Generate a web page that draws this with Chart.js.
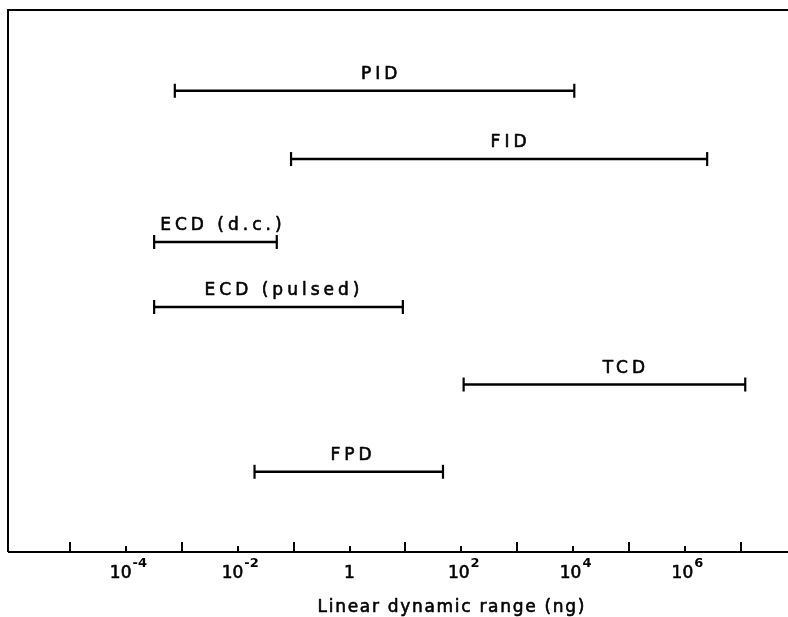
<!DOCTYPE html>
<html>
<head>
<meta charset="utf-8">
<script src="https://cdn.jsdelivr.net/npm/chart.js@4.4.1/dist/chart.umd.min.js"></script>
<style>
  html, body { margin: 0; padding: 0; background: #fff; }
  #wrap { width: 788px; height: 617px; }
</style>
</head>
<body>
<div id="wrap"><canvas id="c" width="788" height="617"></canvas></div>
<script>
// ---- data ----
const detectors   = ['PID', 'FID', 'ECD (d.c.)', 'ECD (pulsed)', 'TCD', 'FPD'];
const rangeLow    = [7.5e-4, 0.09, 3.2e-4, 3.2e-4, 110, 0.02];      // ng
const rangeHigh   = [1.05e4, 2.5e6, 0.05, 9, 1.2e7, 47];             // ng
const rowLevel    = [85.1, 72.5, 57.2, 45.2, 30.9, 14.8];            // vertical row position (0-100)
const labelAt     = [3.4, 700, 0.005, 0.062, 8.1e4, 1.07];           // ng, label centre
const tickExponents = [-5, -4, -3, -2, -1, 0, 1, 2, 3, 4, 5, 6, 7];
const labelledExponents = [-4, -2, 0, 2, 4, 6];
const axisTitle = 'Linear dynamic range (ng)';

const FONT = '"DejaVu Sans", sans-serif';

const datasets = detectors.map((name, i) => ({
  label: name,
  data: [{ x: rangeLow[i], y: rowLevel[i] }, { x: rangeHigh[i], y: rowLevel[i] }],
  borderColor: '#000',
  borderWidth: 2.6,
  pointStyle: 'line',
  rotation: 90,
  pointRadius: 7,
  pointBorderWidth: 2.2,
  pointBorderColor: '#000',
  pointBackgroundColor: '#000',
  showLine: true,
  fill: false
}));

function heavyText(ctx, text, x, y) {
  ctx.fillText(text, x, y);
  ctx.strokeText(text, x, y);
}

const decorPlugin = {
  id: 'decor',
  afterDraw(chart) {
    const ctx = chart.ctx;
    const a = chart.chartArea;
    const xs = chart.scales.x;
    const ys = chart.scales.y;
    ctx.save();
    ctx.strokeStyle = '#000';
    ctx.fillStyle = '#000';
    ctx.lineWidth = 2;
    // frame: left, top, bottom
    ctx.beginPath();
    ctx.moveTo(a.left, a.bottom);
    ctx.lineTo(a.left, a.top);
    ctx.lineTo(chart.width, a.top);
    ctx.moveTo(a.left, a.bottom);
    ctx.lineTo(chart.width, a.bottom);
    ctx.stroke();
    // ticks (inward)
    tickExponents.forEach(e => {
      const px = Math.round(xs.getPixelForValue(Math.pow(10, e)));
      const len = labelledExponents.includes(e) ? 6 : 10;
      ctx.beginPath();
      ctx.moveTo(px, a.bottom);
      ctx.lineTo(px, a.bottom - len);
      ctx.stroke();
    });
    // text
    ctx.lineWidth = 0.6;
    ctx.lineJoin = 'round';
    ctx.textBaseline = 'alphabetic';
    labelledExponents.forEach(e => {
      const px = xs.getPixelForValue(Math.pow(10, e));
      if (e === 0) {
        ctx.font = '17px ' + FONT;
        ctx.textAlign = 'center';
        heavyText(ctx, '1', px, a.bottom + 26);
        return;
      }
      const base = '10';
      const sup = e < 0 ? '-' + Math.abs(e) : String(e);
      ctx.font = '17px ' + FONT;
      const wb = ctx.measureText(base).width;
      ctx.font = 'bold 13px ' + FONT;
      const ws = ctx.measureText(sup).width;
      const start = px - (wb + ws) / 2 + 2;
      ctx.textAlign = 'left';
      ctx.font = '17px ' + FONT;
      heavyText(ctx, base, start, a.bottom + 26);
      ctx.font = 'bold 13px ' + FONT;
      ctx.fillText(sup, start + wb + 1, a.bottom + 15);
    });
    // axis title
    ctx.font = '17px ' + FONT;
    ctx.letterSpacing = '1.7px';
    ctx.textAlign = 'center';
    heavyText(ctx, axisTitle, xs.getPixelForValue(Math.pow(10, 1.83)), a.bottom + 60);
    // detector labels
    ctx.font = '17px ' + FONT;
    ctx.letterSpacing = '4px';
    detectors.forEach((name, i) => {
      const px = xs.getPixelForValue(labelAt[i]);
      const py = ys.getPixelForValue(rowLevel[i]);
      ctx.textAlign = 'center';
      heavyText(ctx, name, px + 2, py - 12);
    });
    ctx.restore();
  }
};

new Chart(document.getElementById('c'), {
  type: 'line',
  data: { datasets },
  options: {
    responsive: false,
    animation: false,
    events: [],
    layout: { autoPadding: false, padding: { top: 10, left: 8, right: 0, bottom: 0 } },
    plugins: { legend: { display: false }, tooltip: { enabled: false } },
    scales: {
      x: {
        type: 'logarithmic',
        position: 'bottom',
        min: Math.pow(10, -6.109),
        max: Math.pow(10, 7.844),
        grid: { display: false, drawTicks: false },
        border: { display: false },
        ticks: { display: false },
        afterFit(scale) { scale.height = 65; }
      },
      y: {
        type: 'linear',
        min: 0,
        max: 100,
        display: false
      }
    }
  },
  plugins: [decorPlugin]
});
</script>
</body>
</html>
